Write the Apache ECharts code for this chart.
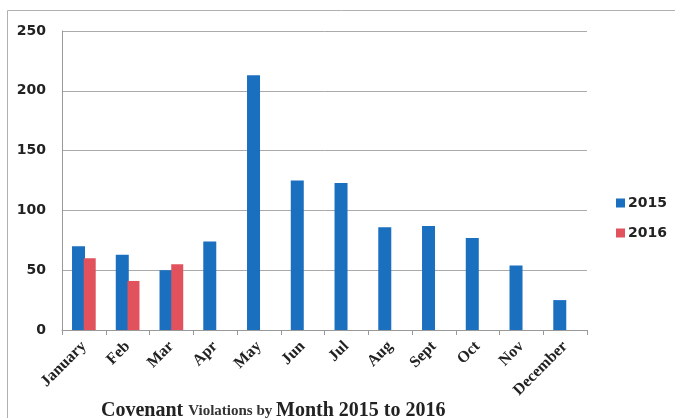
<!DOCTYPE html>
<html>
<head>
<meta charset="utf-8">
<script src="https://cdn.jsdelivr.net/npm/echarts@6/dist/echarts.min.js"></script>
<style>
  html, body { margin: 0; padding: 0; background: #fff; }
  #chart { width: 675px; height: 418px; }
</style>
</head>
<body>
<div id="chart"></div>
<script>
const months = ['January', 'Feb', 'Mar', 'Apr', 'May', 'Jun', 'Jul', 'Aug', 'Sept', 'Oct', 'Nov', 'December'];
const values2015 = [70, 63, 50, 74, 213, 125, 123, 86, 87, 77, 54, 25];
const values2016 = [60, 41, 55, null, null, null, null, null, null, null, null, null];
const yTicks = [0, 50, 100, 150, 200, 250];

const myChart = echarts.init(document.getElementById('chart'));

const option = {
  animation: false,
  title: {
    text: '{a|Covenant }{b|Violations by }{a|Month 2015 to 2016}',
    left: 96,
    top: 396,
    textStyle: {
      rich: {
        a: { fontFamily: 'Liberation Serif', fontWeight: 'bold', fontSize: 20, color: '#222' },
        b: { fontFamily: 'Liberation Serif', fontWeight: 'bold', fontSize: 15, color: '#333' }
      }
    }
  },
  graphic: [{
    type: 'rect',
    shape: { x: 7.5, y: 10.5, width: 700, height: 420 },
    style: { fill: 'none', stroke: '#b0b0b0', lineWidth: 1 }
  }],
  legend: {
    data: ['2015', '2016'],
    orient: 'vertical',
    left: 611,
    top: 191,
    itemWidth: 9,
    itemHeight: 9,
    itemGap: 16,
    icon: 'rect',
    textStyle: { fontFamily: 'DejaVu Sans', fontWeight: 'bold', fontSize: 14, color: '#222', padding: [0, 0, 0, -2] }
  },
  grid: { left: 62, right: 88, top: 31, bottom: 88 },
  xAxis: {
    type: 'category',
    data: months,
    axisLine: { lineStyle: { color: '#999' } },
    axisTick: { show: true, lineStyle: { color: '#999' } },
    axisLabel: {
      rotate: 45,
      interval: 0,
      fontFamily: 'Liberation Serif',
      fontWeight: 'bold',
      fontSize: 16,
      color: '#222',
      margin: 14
    }
  },
  yAxis: {
    type: 'value',
    min: yTicks[0],
    max: yTicks[yTicks.length - 1],
    interval: 50,
    axisLine: { show: true, lineStyle: { color: '#999' } },
    axisTick: { show: false },
    splitLine: { lineStyle: { color: '#aaa' } },
    axisLabel: {
      fontFamily: 'DejaVu Sans',
      fontWeight: 'bold',
      fontSize: 14,
      color: '#222',
      margin: 16
    }
  },
  series: [
    {
      name: '2015',
      type: 'bar',
      data: values2015,
      barWidth: 13,
      barGap: '-10%',
      itemStyle: { color: '#1b6fbf' }
    },
    {
      name: '2016',
      type: 'bar',
      data: values2016,
      barWidth: 12,
      itemStyle: { color: '#e1525c' }
    }
  ]
};

myChart.setOption(option);
</script>
</body>
</html>
